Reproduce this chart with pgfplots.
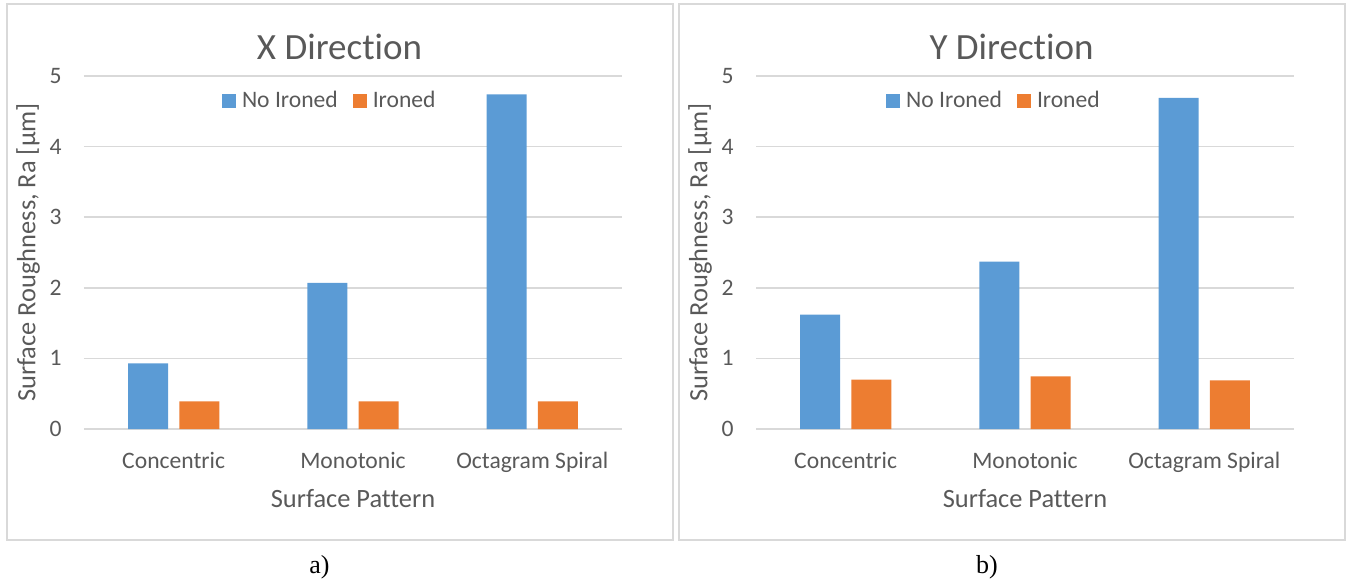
\documentclass[border=0pt]{standalone}
\usepackage{fontspec}
\setmainfont{Carlito}[Ligatures=NoCommon]
\newfontfamily\timesfont{Liberation Serif}
\usepackage{pgfplots}
\pgfplotsset{compat=1.18}
\definecolor{barblue}{HTML}{5B9BD5}
\definecolor{barorange}{HTML}{ED7D31}
\definecolor{txtgray}{HTML}{595959}
\definecolor{gridgray}{HTML}{D9D9D9}

\pgfplotsset{excelbar/.style={
  ybar=5.6pt, bar width=20pt,
  scale only axis, width=269pt, height=176.5pt,
  xmin=-0.5, xmax=2.5, ymin=0, ymax=5,
  xtick={0,1,2}, xticklabels={Concentric,Monotonic,Octagram Spiral},
  ytick={0,1,2,3,4,5},
  ymajorgrids, grid style={gridgray, line width=0.85pt},
  axis line style={draw=none},
  major tick length=0pt,
  tick label style={font=\fontsize{11.8}{14}\selectfont, text=txtgray, inner sep=0pt},
  /pgf/number format/assume math mode=true,
  xticklabel style={anchor=base, yshift=-19.5pt},
  yticklabel style={anchor=east, xshift=-11pt},
  xlabel={Surface Pattern},
  ylabel={Surface Roughness, Ra [µm]},
  label style={font=\fontsize{13.2}{16}\selectfont, text=txtgray},
  xlabel style={at={(axis description cs:0.5,-0.221)}, anchor=base},
  ylabel style={at={(axis description cs:-0.1041,0.5)}, anchor=center},
  every axis title shift=0pt,
  title style={font=\fontsize{18.5}{22}\selectfont, text=txtgray, anchor=base},
  legend columns=2,
  legend style={draw=none, fill=none, font=\fontsize{11.8}{14}\selectfont, text=txtgray,
    anchor=center, nodes={inner sep=0pt},
    /tikz/every even column/.append style={column sep=7.5pt}},
  legend image code/.code={\fill[##1] (0pt,-3.5pt) rectangle (7pt,3.5pt); \path (10pt,0pt);},
}}

\pgfplotstableread{
x noir ir
0 0.93 0.39
1 2.07 0.39
2 4.74 0.39
}\dataX
\pgfplotstableread{
x noir ir
0 1.62 0.70
1 2.37 0.745
2 4.69 0.69
}\dataY

\begin{document}
\begin{tikzpicture}
\path[use as bounding box] (0pt,0pt) rectangle (674.5pt,-291pt);
\draw[gridgray, line width=1pt] (3.35pt,-2pt) rectangle (336.35pt,-270pt);
\draw[gridgray, line width=1pt] (339.35pt,-2pt) rectangle (672.35pt,-270pt);

\begin{axis}[excelbar, at={(42pt,-214.5pt)}, anchor=south west,
  title={X Direction}, title style={at={(axis description cs:0.475,1.048)}},
  legend style={at={(axis description cs:0.455,0.93)}}]
\addplot[fill=barblue, draw=none] table[x=x, y=noir] {\dataX};
\addplot[fill=barorange, draw=none] table[x=x, y=ir] {\dataX};
\legend{No Ironed, Ironed}
\end{axis}

\begin{axis}[excelbar, at={(378pt,-214.5pt)}, anchor=south west,
  title={Y Direction}, title style={at={(axis description cs:0.475,1.048)}},
  legend style={at={(axis description cs:0.4405,0.93)}}]
\addplot[fill=barblue, draw=none] table[x=x, y=noir] {\dataY};
\addplot[fill=barorange, draw=none] table[x=x, y=ir] {\dataY};
\legend{No Ironed, Ironed}
\end{axis}

\node[anchor=base, font=\timesfont\fontsize{13}{15}\selectfont] at (159.75pt,-286.7pt) {a)};
\node[anchor=base, font=\timesfont\fontsize{13}{15}\selectfont] at (493.5pt,-286.7pt) {b)};
\end{tikzpicture}
\end{document}
